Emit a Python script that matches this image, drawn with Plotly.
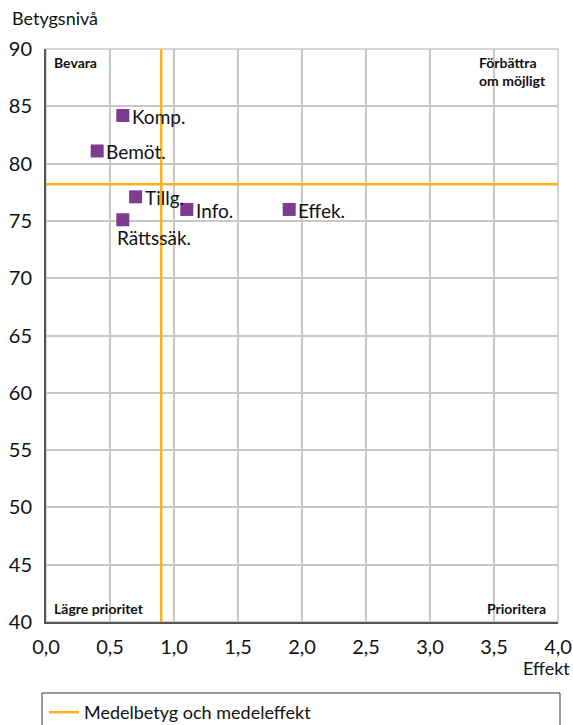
import plotly.graph_objects as go

# Data
labels = ["Komp.", "Bemöt.", "Tillg.", "Info.", "Rättssäk.", "Effek."]
effect = [0.6, 0.4, 0.7, 1.1, 0.6, 1.9]
grade = [84.2, 81.1, 77.1, 76.0, 75.1, 76.0]
mean_effect = 0.9
mean_grade = 78.2
x_range = [0, 4]
y_range = [40, 90]
x_ticks = [0, 0.5, 1, 1.5, 2, 2.5, 3, 3.5, 4]
y_ticks = [40, 45, 50, 55, 60, 65, 70, 75, 80, 85, 90]
legend_name = "Medelbetyg och medeleffekt"
quadrants = {"tl": "Bevara", "tr": "Förbättra<br>om möjligt",
             "bl": "Lägre prioritet", "br": "Prioritera"}

FONT = "Lato"
PURPLE = "#7f3b8e"
ORANGE = "#fbb21c"
GRID = "#c8c8c8"
TXT = "#111"
W, H = 573, 725
ML, MR, MT, MB = 46, 15, 49, 103
PW, PH = W - ML - MR, H - MT - MB

fig = go.Figure()

# mean lines
fig.add_trace(go.Scatter(
    x=[mean_effect, mean_effect, None, x_range[0], x_range[1]],
    y=[y_range[0], y_range[1], None, mean_grade, mean_grade],
    mode="lines", line=dict(color=ORANGE, width=2.5),
    name=legend_name, showlegend=True, hoverinfo="skip"))

fig.add_trace(go.Scatter(
    x=effect, y=grade, mode="markers",
    marker=dict(symbol="square", size=13, color=PURPLE, line=dict(width=0)),
    showlegend=False, cliponaxis=False))

lfont = dict(size=19, color=TXT, family=FONT)
annotations = []
for lab, xv, yv in zip(labels, effect, grade):
    if lab == "Rättssäk.":
        annotations.append(dict(x=xv, y=yv, text=lab, showarrow=False,
                                xanchor="left", yanchor="middle", xshift=-8, yshift=-18,
                                font=lfont))
    else:
        annotations.append(dict(x=xv, y=yv, text=lab, showarrow=False,
                                xanchor="left", yanchor="middle", xshift=7, yshift=-1,
                                font=lfont))

qfont = dict(size=14, color=TXT, family=FONT)
annotations += [
    dict(xref="paper", yref="paper", x=0, y=1, xshift=6, yshift=-3, text="<b>%s</b>" % quadrants["tl"],
         showarrow=False, xanchor="left", yanchor="top", font=qfont),
    dict(xref="paper", yref="paper", x=1, y=1, xshift=-10, yshift=-3, text="<b>%s</b>" % quadrants["tr"],
         showarrow=False, xanchor="right", yanchor="top", align="left", font=qfont),
    dict(xref="paper", yref="paper", x=0, y=0, xshift=6, yshift=3, text="<b>%s</b>" % quadrants["bl"],
         showarrow=False, xanchor="left", yanchor="bottom", font=qfont),
    dict(xref="paper", yref="paper", x=1, y=0, xshift=-10, yshift=3, text="<b>%s</b>" % quadrants["br"],
         showarrow=False, xanchor="right", yanchor="bottom", font=qfont),
    dict(xref="paper", yref="paper", x=0, y=1, xshift=-36, yshift=31, text="Betygsnivå",
         showarrow=False, xanchor="left", yanchor="middle", font=dict(size=18, color=TXT, family=FONT)),
    dict(xref="paper", yref="paper", x=1, y=0, xshift=14, yshift=-46, text="Effekt",
         showarrow=False, xanchor="right", yanchor="middle", font=dict(size=18, color=TXT, family=FONT)),
]

fig.update_layout(
    width=W, height=H,
    margin=dict(l=ML, r=MR, t=MT, b=MB, autoexpand=False),
    paper_bgcolor="white", plot_bgcolor="white",
    separators=", ",
    font=dict(family=FONT, size=18, color=TXT),
    annotations=annotations,
    showlegend=True,
    legend=dict(orientation="h", xref="container", yref="container",
                x=44 / W, xanchor="left", y=1 - 694 / H, yanchor="top",
                borderwidth=0, bgcolor="rgba(0,0,0,0)",
                font=dict(size=18, family=FONT, color=TXT), itemwidth=30, tracegroupgap=0),
)
fig.update_xaxes(range=x_range, tickvals=x_ticks, tickformat=".1f", automargin=False,
                 showgrid=True, gridcolor=GRID, gridwidth=1.5,
                 showline=True, linecolor="#555", linewidth=2,
                 ticks="", ticklabelstandoff=6, zeroline=False,
                 tickfont=dict(size=20, family=FONT, color=TXT))
fig.update_yaxes(range=y_range, tickvals=y_ticks, automargin=False,
                 showgrid=True, gridcolor=GRID, gridwidth=1.5,
                 showline=True, linecolor="#555", linewidth=2,
                 ticks="", ticklabelstandoff=8, zeroline=False,
                 tickfont=dict(size=20, family=FONT, color=TXT))
# outer grey frame on top/right
fig.add_shape(type="rect", xref="paper", yref="paper", x0=0, y0=0, x1=1, y1=1,
              line=dict(color=GRID, width=1.5), layer="below")
# legend box
fig.add_shape(type="rect", xref="paper", yref="paper",
              x0=(42 - ML) / PW, x1=(560 - ML) / PW,
              y0=(H - MB - 740) / PH, y1=(H - MB - 693) / PH,
              line=dict(color="#333", width=1), fillcolor="rgba(0,0,0,0)", layer="above")

fig.write_html("out.html", config={"displayModeBar": False},
               post_script="document.body.style.margin='0';document.body.style.overflow='hidden';")
